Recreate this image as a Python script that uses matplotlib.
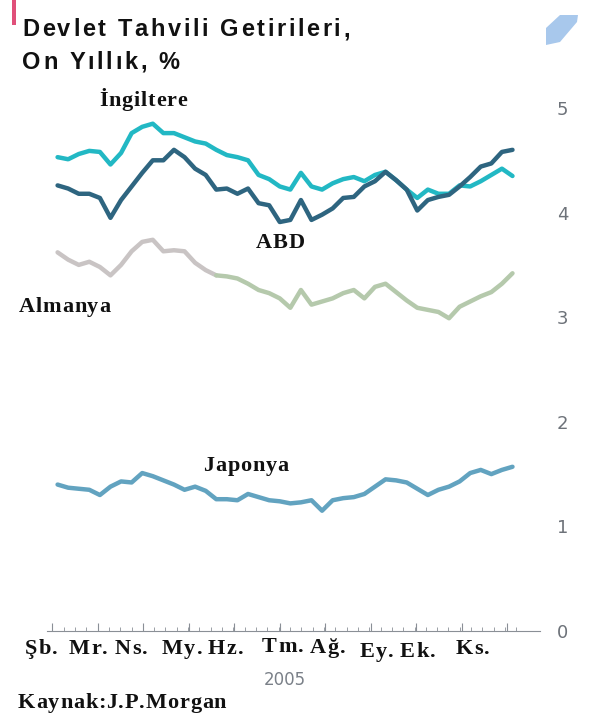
import numpy as np
import matplotlib.pyplot as plt
from matplotlib import font_manager, ft2font
from matplotlib.patches import Polygon, Rectangle

# haftalik veri, Subat - Kasim 2005
ingiltere = [4.53, 4.51, 4.56, 4.59, 4.58, 4.46, 4.57, 4.76, 4.82, 4.85, 4.76, 4.76,
             4.72, 4.68, 4.66, 4.60, 4.55, 4.53, 4.50, 4.36, 4.32, 4.25, 4.22, 4.38,
             4.25, 4.22, 4.28, 4.32, 4.34, 4.30, 4.36, 4.39, 4.31, 4.22, 4.14, 4.22,
             4.18, 4.18, 4.26, 4.25, 4.30, 4.36, 4.42, 4.35]
abd = [4.26, 4.23, 4.18, 4.18, 4.14, 3.95, 4.12, 4.25, 4.38, 4.50, 4.50, 4.60,
       4.53, 4.42, 4.36, 4.22, 4.23, 4.18, 4.23, 4.09, 4.07, 3.91, 3.93, 4.12,
       3.93, 3.98, 4.04, 4.14, 4.15, 4.25, 4.30, 4.39, 4.31, 4.22, 4.02, 4.12,
       4.15, 4.17, 4.25, 4.34, 4.44, 4.47, 4.58, 4.60]
almanya = [3.62, 3.55, 3.50, 3.53, 3.48, 3.40, 3.50, 3.63, 3.72, 3.74, 3.63, 3.64,
           3.63, 3.52, 3.45, 3.40, 3.39, 3.37, 3.32, 3.26, 3.23, 3.18, 3.09, 3.26,
           3.12, 3.15, 3.18, 3.23, 3.26, 3.18, 3.29, 3.32, 3.24, 3.16, 3.09, 3.07,
           3.05, 2.99, 3.10, 3.15, 3.20, 3.24, 3.32, 3.42]
japonya = [1.40, 1.37, 1.36, 1.35, 1.30, 1.38, 1.43, 1.42, 1.51, 1.48, 1.44, 1.40,
           1.35, 1.38, 1.34, 1.26, 1.26, 1.25, 1.31, 1.28, 1.25, 1.24, 1.22, 1.23,
           1.25, 1.15, 1.25, 1.27, 1.28, 1.31, 1.38, 1.45, 1.44, 1.42, 1.36, 1.30,
           1.35, 1.38, 1.43, 1.51, 1.54, 1.50, 1.54, 1.57]

aylar = ["Şb.", "Mr.", "Ns.", "My.", "Hz.", "Tm.", "Ağ.", "Ey.", "Ek.", "Ks."]
y_ticks = [0, 1, 2, 3, 4, 5]

W, H = 604, 720
fig = plt.figure(figsize=(W / 100, H / 100), dpi=100)
fig.patch.set_facecolor('white')


def harf_araligi(x, y, s, track, family, size, weight='bold', color='#111111', ha='left'):
    # harfleri tek tek yerlestir (gazete basligindaki acik harf araligi icin)
    fp = font_manager.FontProperties(family=family, weight=weight)
    f = ft2font.FT2Font(font_manager.findfont(fp))
    f.set_size(size, 100)
    adv = [f.load_char(ord(c)).linearHoriAdvance / 65536 for c in s]
    total = sum(adv) + track * (len(s) - 1)
    if ha == 'center':
        x = x - total / 2
    for c, a in zip(s, adv):
        if c != ' ':
            fig.text(x / W, 1 - y / H, c, ha='left', va='baseline', fontsize=size,
                     fontweight=weight, family=family, color=color)
        x += a + track


# eksen: 0 -> 631 px, 5 -> 108 px
ax = fig.add_axes([47 / W, (H - 631) / H, (540 - 47) / W, (631 - 108) / H])
ax.set_xlim(-1, 45.6)
ax.set_ylim(0, 5)
ax.patch.set_alpha(0)
for s in ['top', 'left', 'right']:
    ax.spines[s].set_visible(False)
ax.spines['bottom'].set_color('#8a8f96')
ax.spines['bottom'].set_linewidth(0.8)

x = np.arange(len(ingiltere))
kw = dict(lw=3.2, solid_capstyle='round', solid_joinstyle='round', clip_on=False)
ax.plot(x[:16], almanya[:16], color='#c9c4c4', **kw)
ax.plot(x[15:], almanya[15:], color='#b5c9ac', **kw)
ax.plot(x, japonya, color='#62a3c0', **kw)
ax.plot(x, ingiltere, color='#22b8c4', **kw)
ax.plot(x, abd, color='#2e6580', **kw)

# kucuk haftalik ve aylik cizgiler
ax.set_xticks(np.arange(-0.5, 44, 4.3))
ax.set_xticks(np.arange(-0.5, 44, 1.07), minor=True)
ax.tick_params(axis='x', which='major', direction='in', length=6, width=0.8, color='#8a8f96', labelbottom=False)
ax.tick_params(axis='x', which='minor', direction='in', length=3, width=0.6, color='#8a8f96')

ax.yaxis.tick_right()
ax.set_yticks(y_ticks)
ax.set_yticklabels([str(v) for v in y_ticks])
ax.tick_params(axis='y', length=0, pad=12, labelsize=13, labelcolor='#6d7279')
for t in ax.get_yticklabels():
    t.set_family('DejaVu Sans')

serif = 'Liberation Serif'
ay_px = [25, 69, 115, 162, 208, 262, 310, 360, 400, 456]
ay_base = [654, 654, 654, 654, 654, 652, 653, 657, 657, 654]
for lab, xp, yb in zip(aylar, ay_px, ay_base):
    harf_araligi(xp, yb, lab, 1.2, serif, 16)

fig.text(285 / W, 1 - 680 / H, "2005", ha='center', va='center', fontsize=12,
         color='#7a8088', family='DejaVu Sans')
harf_araligi(18, 708, "Kaynak:J.P.Morgan", 0.8, serif, 16)

# seri etiketleri
harf_araligi(143, 106, "İngiltere", 0.8, serif, 16, ha='center')
harf_araligi(280, 248, "ABD", 0.8, serif, 16, ha='center')
harf_araligi(19, 312, "Almanya", 0.8, serif, 16)
harf_araligi(246, 471, "Japonya", 0.8, serif, 16, ha='center')

# baslik
harf_araligi(22, 36, "Devlet Tahvili Getirileri,", 2.6, 'Liberation Sans', 17)
harf_araligi(22, 69, "On Yıllık, %", 2.6, 'Liberation Sans', 17)

# kose suslemeleri
fig.patches.append(Rectangle((12 / W, 1 - 25 / H), 4 / W, 25 / H, transform=fig.transFigure,
                             color='#e0507a', lw=0))
fig.patches.append(Polygon([(546 / W, 1 - 45 / H), (546 / W, 1 - 28 / H), (560 / W, 1 - 15 / H),
                            (578 / W, 1 - 15 / H), (577 / W, 1 - 22 / H), (560 / W, 1 - 42 / H)],
                           closed=True, transform=fig.transFigure, color='#a8c8ec', lw=0))

fig.savefig('out.png', dpi=100)
